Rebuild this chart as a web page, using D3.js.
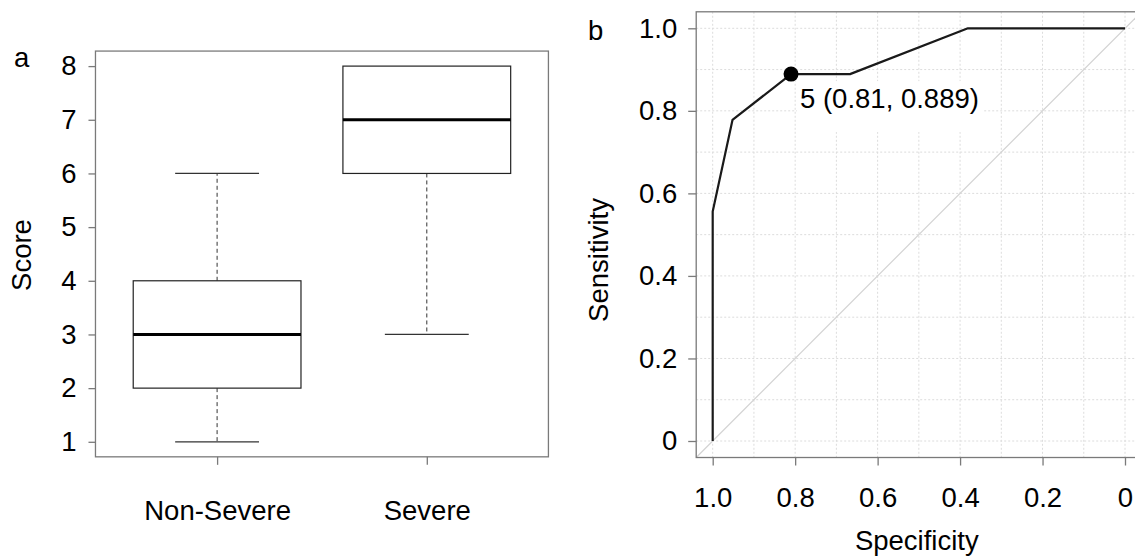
<!DOCTYPE html>
<html>
<head>
<meta charset="utf-8">
<script src="https://cdn.jsdelivr.net/npm/d3@7"></script>
<style>
  body { margin: 0; background: #fff; }
  svg text { font-family: "Liberation Sans", Arial, Helvetica, sans-serif; fill: #000; }
</style>
</head>
<body>
<div id="chart"></div>
<script>
// panel a: score boxplot
var groups = ["Non-Severe", "Severe"];
var whiskerLow = [1, 3];
var q1 = [2, 6];
var median = [3, 7];
var q3 = [4, 8];
var whiskerHigh = [6, 8];
var scoreTicks = [1, 2, 3, 4, 5, 6, 7, 8];

// panel b: ROC curve (specificity, sensitivity)
var specificity = [1.0, 1.0, 0.952, 0.810, 0.667, 0.381, 0.0];
var sensitivity = [0.0, 0.556, 0.778, 0.889, 0.889, 1.0, 1.0];
var bestSpec = 0.81, bestSens = 0.889, bestLabel = "5 (0.81, 0.889)";
var rocTicks = [0, 0.2, 0.4, 0.6, 0.8, 1.0];
var rocTickLabels = ["0", "0.2", "0.4", "0.6", "0.8", "1.0"];
var gridTicks = d3.range(0, 11).map(function (i) { return i / 10; });

var W = 1135, H = 558, FS = 27.5;
var frameColor = "#7a7a7a";

var svg = d3.select("#chart").append("svg").attr("width", W).attr("height", H);

// ---------- panel a ----------
var xa = d3.scaleLinear().domain([1, 2]).range([217.1, 426.8]);
var ya = d3.scaleLinear().domain([1, 8]).range([441.8, 66.1]);
var aL = xa(0.42), aR = xa(2.58), aT = ya(8.28), aB = ya(0.72);

var ga = svg.append("g");

var boxes = ga.selectAll("g.box").data(groups).enter().append("g").attr("class", "box");
var halfBox = (xa(1.4) - xa(1)), halfCap = (xa(1.2) - xa(1));

boxes.each(function (d, i) {
  var g = d3.select(this), cx = xa(i + 1);
  // whiskers (dashed)
  if (whiskerHigh[i] > q3[i]) {
    g.append("line").attr("x1", cx).attr("x2", cx).attr("y1", ya(q3[i])).attr("y2", ya(whiskerHigh[i]))
      .attr("stroke", "#333").attr("stroke-width", 1).attr("stroke-dasharray", "4,3");
    g.append("line").attr("x1", cx - halfCap).attr("x2", cx + halfCap).attr("y1", ya(whiskerHigh[i])).attr("y2", ya(whiskerHigh[i]))
      .attr("stroke", "#333").attr("stroke-width", 1.2);
  }
  if (whiskerLow[i] < q1[i]) {
    g.append("line").attr("x1", cx).attr("x2", cx).attr("y1", ya(q1[i])).attr("y2", ya(whiskerLow[i]))
      .attr("stroke", "#333").attr("stroke-width", 1).attr("stroke-dasharray", "4,3");
    g.append("line").attr("x1", cx - halfCap).attr("x2", cx + halfCap).attr("y1", ya(whiskerLow[i])).attr("y2", ya(whiskerLow[i]))
      .attr("stroke", "#333").attr("stroke-width", 1.2);
  }
  g.append("rect").attr("x", cx - halfBox).attr("y", ya(q3[i]))
    .attr("width", 2 * halfBox).attr("height", ya(q1[i]) - ya(q3[i]))
    .attr("fill", "#fff").attr("stroke", "#222").attr("stroke-width", 1.2);
  g.append("line").attr("x1", cx - halfBox).attr("x2", cx + halfBox).attr("y1", ya(median[i])).attr("y2", ya(median[i]))
    .attr("stroke", "#000").attr("stroke-width", 3);
});

ga.append("rect").attr("x", aL).attr("y", aT).attr("width", aR - aL).attr("height", aB - aT)
  .attr("fill", "none").attr("stroke", frameColor).attr("stroke-width", 1.3);

var yAxisA = ga.append("g").attr("transform", "translate(" + aL + ",0)")
  .call(d3.axisLeft(ya).tickValues(scoreTicks).tickSize(7).tickSizeOuter(0).tickPadding(12).tickFormat(d3.format("d")));
var xAxisA = ga.append("g").attr("transform", "translate(0," + aB + ")")
  .call(d3.axisBottom(xa).tickValues([1, 2]).tickSize(8).tickSizeOuter(0).tickFormat(function (d) { return groups[d - 1]; }));
xAxisA.selectAll("text").attr("y", 63).attr("dy", 0);

ga.append("text").attr("transform", "translate(31,255) rotate(-90)").attr("text-anchor", "middle")
  .style("font-size", FS + "px").text("Score");
ga.append("text").attr("x", 14).attr("y", 67).style("font-size", FS + "px").text("a");

// ---------- panel b ----------
var xb = d3.scaleLinear().domain([1, 0]).range([712.7, 1125]);
var yb = d3.scaleLinear().domain([0, 1]).range([441, 28.3]);
var bL = xb(1.04), bR = xb(-0.04), bT = yb(1.04), bB = yb(-0.04);

var gb = svg.append("g");
gb.append("clipPath").attr("id", "clipb").append("rect")
  .attr("x", bL).attr("y", bT).attr("width", bR - bL).attr("height", bB - bT);
var inner = gb.append("g").attr("clip-path", "url(#clipb)");

inner.selectAll("line.vg").data(gridTicks).enter().append("line").attr("class", "vg")
  .attr("x1", function (d) { return xb(d); }).attr("x2", function (d) { return xb(d); })
  .attr("y1", bT).attr("y2", bB)
  .attr("stroke", "#dcdcdc").attr("stroke-width", 1).attr("stroke-dasharray", "2,2");
inner.selectAll("line.hg").data(gridTicks).enter().append("line").attr("class", "hg")
  .attr("y1", function (d) { return yb(d); }).attr("y2", function (d) { return yb(d); })
  .attr("x1", bL).attr("x2", bR)
  .attr("stroke", "#dcdcdc").attr("stroke-width", 1).attr("stroke-dasharray", "2,2");

// chance diagonal
inner.append("line").attr("x1", xb(1.04)).attr("y1", yb(-0.04)).attr("x2", xb(-0.04)).attr("y2", yb(1.04))
  .attr("stroke", "#d3d3d3").attr("stroke-width", 1.2);

// label with white background
var lbl = inner.append("text").attr("x", xb(bestSpec) + 9).attr("y", yb(bestSens) + 34)
  .style("font-size", FS + "px").text(bestLabel);
var bb = lbl.node().getBBox();
inner.insert("rect", "text").attr("x", bb.x - 3).attr("y", bb.y - 2)
  .attr("width", bb.width + 8).attr("height", bb.height + 20).attr("fill", "#fff");

var line = d3.line().x(function (d) { return xb(d[0]); }).y(function (d) { return yb(d[1]); });
inner.append("path").datum(d3.zip(specificity, sensitivity)).attr("d", line)
  .attr("fill", "none").attr("stroke", "#1a1a1a").attr("stroke-width", 2.2).attr("stroke-linejoin", "round");

inner.append("circle").attr("cx", xb(bestSpec)).attr("cy", yb(bestSens)).attr("r", 7.5).attr("fill", "#000");

gb.append("rect").attr("x", bL).attr("y", bT).attr("width", bR - bL).attr("height", bB - bT)
  .attr("fill", "none").attr("stroke", frameColor).attr("stroke-width", 1.3);

gb.append("g").attr("transform", "translate(" + bL + ",0)")
  .call(d3.axisLeft(yb).tickValues(rocTicks).tickSize(8).tickSizeOuter(0).tickPadding(11)
    .tickFormat(function (d, i) { return rocTickLabels[i]; }));
var xAxisB = gb.append("g").attr("transform", "translate(0," + bB + ")")
  .call(d3.axisBottom(xb).tickValues(rocTicks.slice().reverse()).tickSize(8).tickSizeOuter(0)
    .tickFormat(function (d) { return rocTickLabels[rocTicks.indexOf(d)]; }));
xAxisB.selectAll("text").attr("y", 49).attr("dy", 0);

gb.append("text").attr("transform", "translate(608,260) rotate(-90)").attr("text-anchor", "middle")
  .style("font-size", FS + "px").text("Sensitivity");
gb.append("text").attr("x", (bL + bR) / 2 - 2).attr("y", 550).attr("text-anchor", "middle")
  .style("font-size", FS + "px").text("Specificity");
gb.append("text").attr("x", 588).attr("y", 40).style("font-size", FS + "px").text("b");

// axis styling
svg.selectAll(".domain").remove();
svg.selectAll(".tick line").attr("stroke", frameColor).attr("stroke-width", 1.3);
svg.selectAll(".tick text").style("font-size", FS + "px").attr("fill", "#000");
</script>
</body>
</html>
